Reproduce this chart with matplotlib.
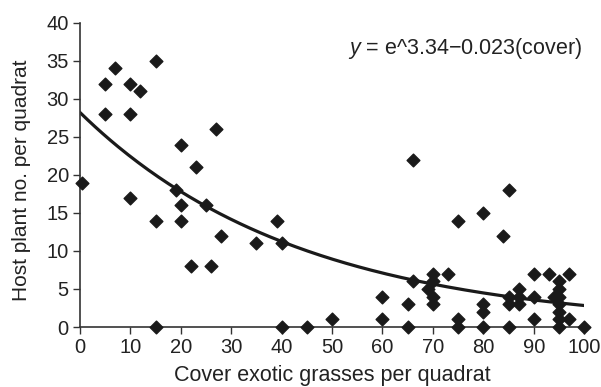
import numpy as np
import matplotlib
matplotlib.use("Agg")
import matplotlib.pyplot as plt

plt.rcParams['font.family'] = ['Liberation Sans', 'DejaVu Sans']
plt.rcParams['mathtext.fontset'] = 'custom'
plt.rcParams['mathtext.it'] = 'Liberation Sans:italic'
plt.rcParams['mathtext.rm'] = 'Liberation Sans'

cover = [0.5, 5, 5, 7, 10, 10, 10, 12, 15, 15, 15, 19, 20, 20, 20, 22, 23, 25, 26, 27, 28,
         35, 39, 40, 40, 45, 50,
         60, 60, 65, 65, 66, 66, 69, 70, 70, 70, 70, 73, 75, 75, 75,
         80, 80, 80, 80, 84, 85, 85, 85, 85, 87, 87, 87,
         90, 90, 90, 93, 94, 95, 95, 95, 95, 95, 95, 95, 97, 97, 100]
hosts = [19, 32, 28, 34, 32, 28, 17, 31, 35, 14, 0, 18, 24, 16, 14, 8, 21, 16, 8, 26, 12,
         11, 14, 11, 0, 0, 1,
         4, 1, 3, 0, 22, 6, 5, 7, 6, 4, 3, 7, 14, 1, 0,
         15, 3, 2, 0, 12, 18, 4, 3, 0, 5, 4, 3,
         7, 4, 1, 7, 4, 6, 5, 4, 3, 2, 1, 0, 7, 1, 0]

intercept = 3.34
slope = -0.023

fig = plt.figure(figsize=(6.01, 3.87), dpi=100)
ax = fig.add_axes([0.133, 0.155, 0.839, 0.786])

ax.scatter(cover, hosts, marker='D', s=42, color='#1a1a1a', zorder=3, clip_on=False)
xs = np.linspace(0, 100, 200)
ax.plot(xs, np.exp(intercept + slope * xs), color='#1a1a1a', lw=2.3, zorder=2)

ax.set_xlim(0, 100)
ax.set_ylim(0, 40)
ax.set_xticks(range(0, 101, 10))
ax.set_yticks(range(0, 41, 5))
for s in ['top', 'right']:
    ax.spines[s].set_visible(False)
for s in ['left', 'bottom']:
    ax.spines[s].set_color('#333333')
    ax.spines[s].set_linewidth(1.2)
ax.tick_params(axis='both', direction='out', length=5, width=1, colors='#333333',
               labelsize=14.5, labelcolor='#222222', pad=3)

ax.set_xlabel('Cover exotic grasses per quadrat', fontsize=15.5, color='#222222', labelpad=6)
ax.set_ylabel('Host plant no. per quadrat', fontsize=15, color='#222222')
ax.yaxis.set_label_coords(-0.097, 0.484)

ax.text(0.997, 0.957, '$\\it{y}$ = e^3.34\u22120.023(cover)',
        transform=ax.transAxes, ha='right', va='top', fontsize=15.5, color='#222222')

fig.savefig('out.png', dpi=100)
